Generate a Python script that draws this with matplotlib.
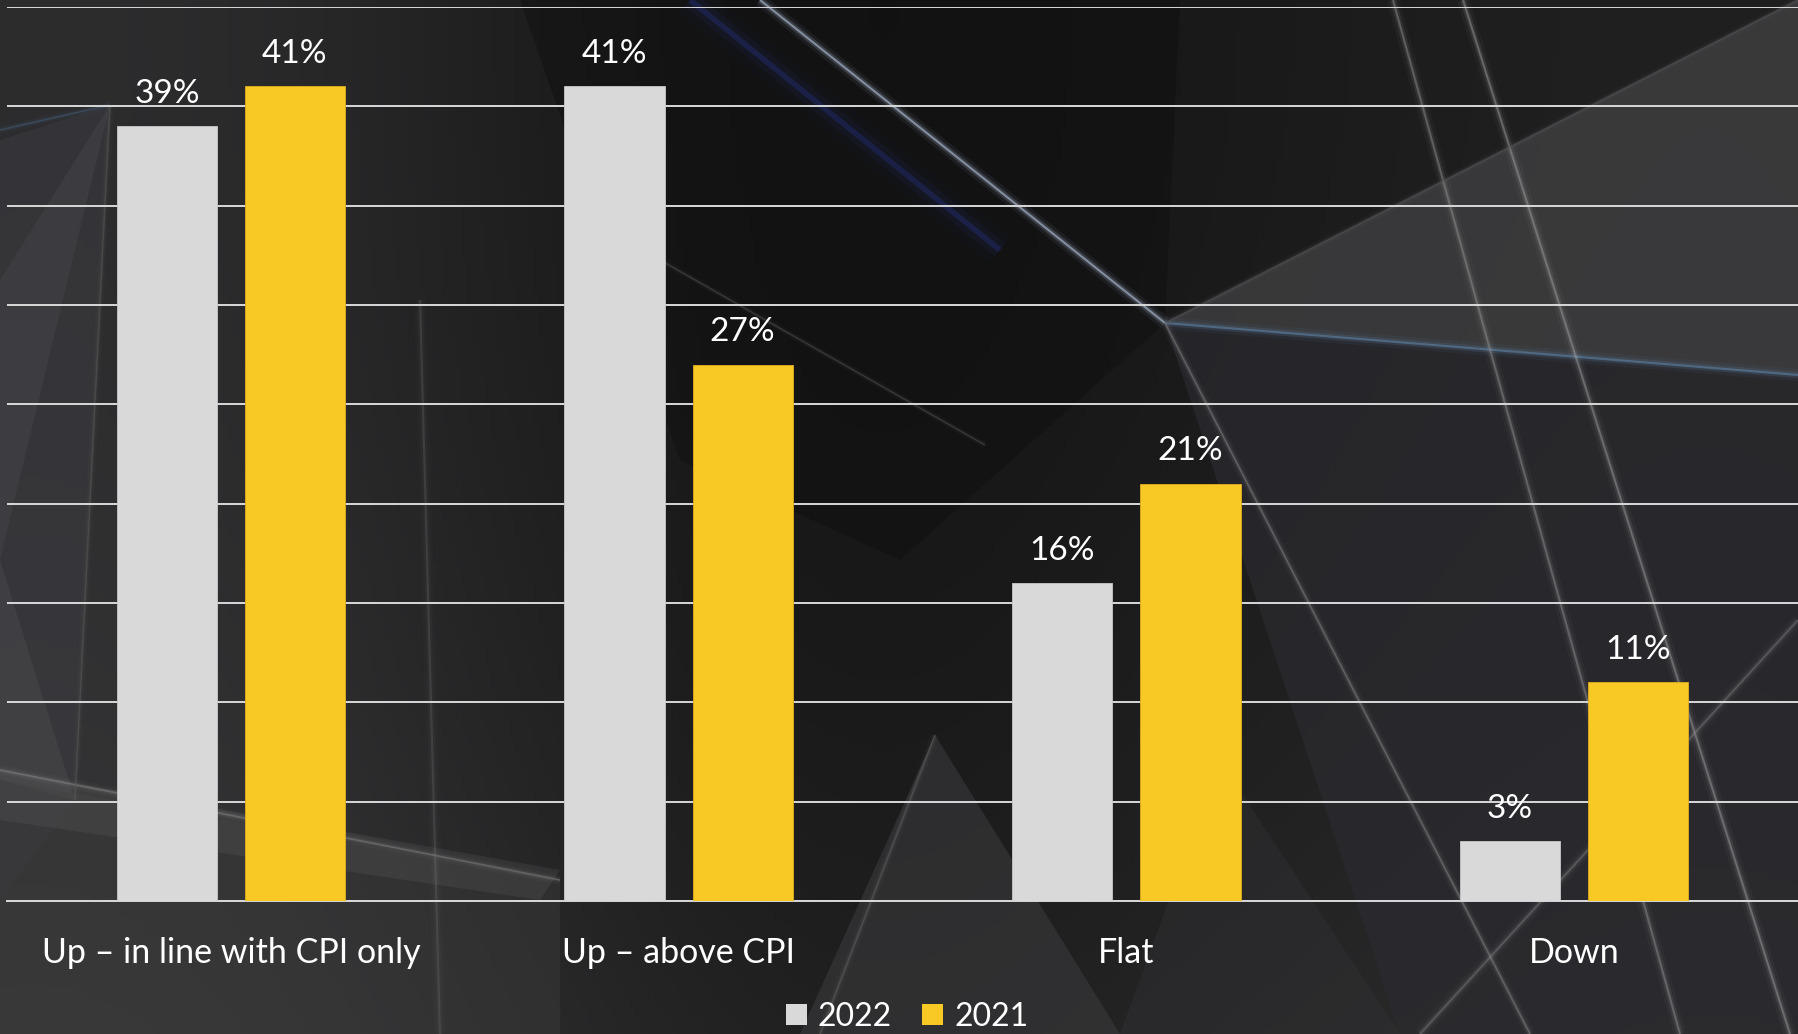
import numpy as np
import matplotlib
matplotlib.use("Agg")
import matplotlib.pyplot as plt
from matplotlib.patches import Polygon, Patch
from matplotlib.lines import Line2D

# %% Data
# ----------------------------------------------------------------------
categories = ["Up \u2013 in line with CPI only", "Up \u2013 above CPI", "Flat", "Down"]
values_2022 = [39, 41, 16, 3]
values_2021 = [41, 27, 21, 11]
series_names = ["2022", "2021"]
yticks = [0, 5, 10, 15, 20, 25, 30, 35, 40, 45]

col_2022 = "#d9d9d9"
col_2021 = "#f8c825"

plt.rcParams["font.family"] = ["Lato", "DejaVu Sans"]

W, H = 1798, 1034
fig = plt.figure(figsize=(W / 100, H / 100), dpi=100)

# %% Background (dark abstract geometric look)
# ----------------------------------------------------------------------
bg = fig.add_axes([0, 0, 1, 1], zorder=-10)
bg.set_xlim(0, W)
bg.set_ylim(H, 0)
bg.axis("off")

xs = np.linspace(0, 1, 300)
ys = np.linspace(0, 1, 200)
gx, gy = np.meshgrid(xs, ys)
# lighter on the left and bottom, darkest in the middle
shade = 0.105 + 0.07 * np.exp(-((gx - 0.02) / 0.3) ** 2) + 0.045 * gy ** 2 \
    - 0.03 * np.exp(-((gx - 0.45) / 0.2) ** 2) + 0.02 * np.exp(-((gx - 0.95) / 0.2) ** 2)
img = np.dstack([shade, shade, shade * 1.03])
bg.imshow(np.clip(img, 0, 1), extent=[0, W, H, 0], aspect="auto", zorder=0)

def poly(pts, color, alpha):
    bg.add_patch(Polygon(pts, closed=True, facecolor=color, edgecolor="none", alpha=alpha, zorder=1))

def streak(p0, p1, color, lw, alpha):
    # soft glow + thin core
    for k, a in [(6, 0.12), (3, 0.3), (1, 1.0)]:
        bg.add_line(Line2D([p0[0], p1[0]], [p0[1], p1[1]], color=color, lw=lw * k, alpha=alpha * a,
                           solid_capstyle="butt", zorder=2))

# left side facets
poly([(0, 140), (110, 105), (75, 800), (0, 900)], "#3c3c42", 0.55)
poly([(0, 280), (110, 105), (0, 560)], "#4a4a50", 0.35)
poly([(0, 560), (75, 800), (0, 780)], "#555558", 0.3)
poly([(0, 780), (560, 880), (560, 1034), (0, 1034)], "#3a3a3a", 0.45)
poly([(0, 770), (560, 870), (540, 900), (0, 820)], "#6a6a6a", 0.2)
# dark central wedge
poly([(520, 0), (1180, 0), (1165, 323), (900, 560), (680, 460)], "#0f0f10", 0.45)
# upper right lighter triangle
poly([(1165, 323), (1798, 0), (1798, 375)], "#424244", 0.75)
# lower right panel
poly([(1165, 323), (1798, 375), (1798, 1034), (1400, 1034)], "#2b2b30", 0.7)
# bottom centre facet
poly([(935, 735), (1120, 1034), (800, 1034)], "#3a3a3c", 0.6)
poly([(1120, 1034), (1400, 1034), (1220, 760)], "#333336", 0.4)

# light streaks
streak((760, 0), (1165, 323), "#b4c4dc", 1.5, 0.6)
streak((690, 0), (1000, 250), "#2a3a9a", 4, 0.3)
streak((1165, 323), (1798, 375), "#5a7a9a", 1.5, 0.7)
streak((1165, 323), (1530, 1034), "#9a9a9a", 1.2, 0.4)
streak((1393, 0), (1680, 1034), "#a0a0a0", 1.5, 0.4)
streak((1463, 0), (1790, 1034), "#b0b0b0", 1.5, 0.4)
streak((1798, 620), (1420, 1034), "#909090", 1.5, 0.35)
streak((1165, 323), (1798, 0), "#555558", 1.0, 0.6)
streak((0, 770), (560, 880), "#a0a0a0", 1.2, 0.35)
streak((110, 105), (75, 800), "#5a5a5a", 1.0, 0.5)
streak((420, 300), (440, 1034), "#888888", 1.5, 0.2)
streak((660, 260), (985, 445), "#666666", 0.8, 0.4)
streak((935, 735), (820, 1034), "#707070", 1.0, 0.4)
streak((0, 130), (110, 105), "#4a6a8a", 1.0, 0.4)

# %% Bar chart
# ----------------------------------------------------------------------
ax = fig.add_axes([7 / W, 1 - 901 / H, 1 - 7 / W, (901 - 7) / H])
ax.patch.set_alpha(0)

x = np.arange(len(categories))
bw = 0.224
off = 0.143
b1 = ax.bar(x - off, values_2022, bw, color=col_2022, edgecolor="#c8c8c8", linewidth=0.6, zorder=3)
b2 = ax.bar(x + off, values_2021, bw, color=col_2021, edgecolor="#e0b020", linewidth=0.6, zorder=3)

for bars, vals in [(b1, values_2022), (b2, values_2021)]:
    for r, v in zip(bars, vals):
        ax.annotate(f"{v}%", (r.get_x() + r.get_width() / 2, v), xytext=(0, 17),
                    textcoords="offset points", ha="center", va="baseline",
                    color="white", fontsize=24)

ax.set_xlim(-0.5, 3.5)
ax.set_ylim(0, 45)
ax.set_yticks(yticks)
ax.yaxis.grid(True, color="#d9d9d9", linewidth=1.4, zorder=1)
ax.set_axisbelow(True)
ax.tick_params(axis="y", left=False, labelleft=False)
ax.set_xticks(x)
ax.set_xticklabels(categories, color="white", fontsize=24.5)
ax.tick_params(axis="x", length=0, pad=26)
for s in ["top", "right", "left"]:
    ax.spines[s].set_visible(False)
ax.spines["bottom"].set_color("#d9d9d9")
ax.spines["bottom"].set_linewidth(1.4)

handles = [Patch(facecolor=col_2022, edgecolor="none"), Patch(facecolor=col_2021, edgecolor="none")]
fig.legend(handles, series_names, loc="center", bbox_to_anchor=(907 / W, 1 - 1017 / H),
           ncol=2, frameon=False, fontsize=23, labelcolor="white",
           handlelength=0.65, handleheight=0.65, handletextpad=0.35, columnspacing=0.95)

fig.savefig("out.png", dpi=100, facecolor="#1c1c1e")
